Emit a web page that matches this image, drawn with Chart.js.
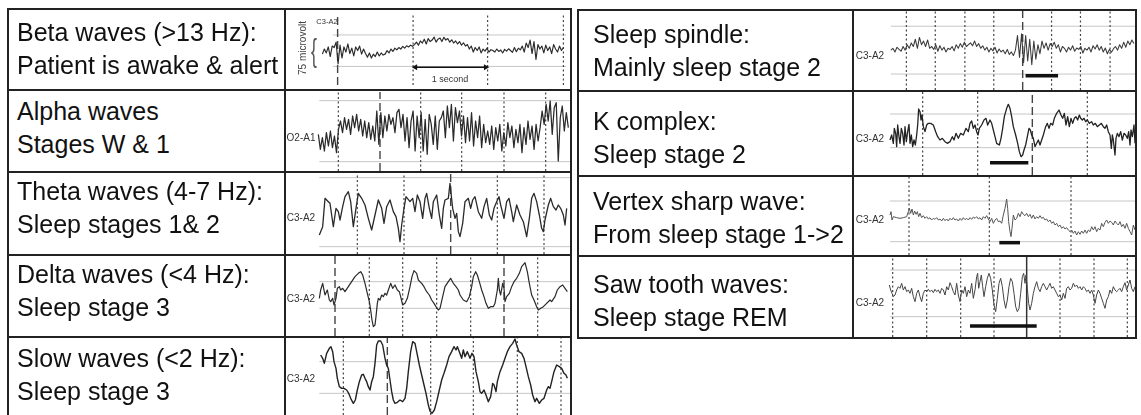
<!DOCTYPE html>
<html>
<head>
<meta charset="utf-8">
<script src="https://cdn.jsdelivr.net/npm/chart.js@4.4.1/dist/chart.umd.min.js"></script>
<style>
  html, body { margin: 0; padding: 0; background: #fff; }
  #page { position: relative; width: 1141px; height: 415px; overflow: hidden; font-family: "Liberation Sans", Arial, sans-serif; }
  .rule { position: absolute; background: #222; }
  .txt { position: absolute; font-size: 25px; line-height: 33px; color: #111; white-space: nowrap; }
  .lbl { position: absolute; font-size: 10px; color: #333; white-space: nowrap; transform: translate(-50%, -50%); }
  canvas { position: absolute; }
</style>
</head>
<body>
<div id="page"></div>
<script>
// ---- text of the two tables ----
const leftTitles = ['Beta waves (>13 Hz):', 'Alpha waves', 'Theta waves (4-7 Hz):', 'Delta waves (<4 Hz):', 'Slow waves (<2 Hz):']
const leftNotes = ['Patient is awake & alert', 'Stages W & 1', 'Sleep stages 1& 2', 'Sleep stage 3', 'Sleep stage 3']
const rightTitles = ['Sleep spindle:', 'K complex:', 'Vertex sharp wave:', 'Saw tooth waves:']
const rightNotes = ['Mainly sleep stage 2', 'Sleep stage 2', 'From sleep stage 1->2', 'Sleep stage REM']
const channels = ['C3-A2', 'O2-A1', 'C3-A2', 'C3-A2', 'C3-A2', 'C3-A2', 'C3-A2', 'C3-A2', 'C3-A2']

// ---- traces: amplitude (reference lines mark the 75 microvolt span) ----
// evenly sampled sweeps
const betaAmp = [-12, 5, -8, 12, -20, 15, 10, 28, -45, 18, -25, 12, -5, 22, -10, 8, -18, 12, 0, 15, -12, 5,
  -10, -22, -8, -25, -12, -20, -5, -18, -8, -15,
  -12, 0, -8, 5, -3, 8, 2, 10, 5, 14, 8, 16, 12, 18, 14,
  20, 28, 18, 32, 25, 38, 22, 40, 30, 35, 45, 28, 38, 42, 30, 44, 35, 40, 28, 36, 25, 32, 22, 30, 18, 26, 15,
  20, 5, 15, -5, 10, 0, 12, -8, 5, -2, 8, -5, 3,
  0, -5, 5, -3, 2, -8, 4, -2, 6, 0, -6, 10, -4, 8, 2, 15, -5, 25, 10, 35, -10, 30, -30, 20, 5, 15, -8, 18, 0, 12, -10, 20, 5, -5, 15, 0, 10]

const alphaAmp = [-10, -55, -20, -60, -5, -45, 0, -50, -15, -65, 5,
  30, -5, 40, 5, 35, -10, 45, 10, 50, 0, 35, -15, 30, -20, 25, -25, 15, -30,
  60, -40, 55, -20, 45, 0, 50, 20, 40, -5, 55, 65, 10, 50, -30, 40, -50, 30, 60, -60, 45, -20,
  55, -60, 35, -70, 50, 20, -40, 45, -55, 30,
  40, 60, -20, 75, 10, 80, -30, 70, 25, 60, -15, 45, -35,
  40, -30, 55, -45, 30, -20, 45, -50, 20, -35,
  0, -40, 15, -55, 10, -30, 20, -60, -5, -45, 25, -20, 15, -50, 5, -35, 20, -65, 10, -40, 30, -25, 15, -55, 20, -30, 10,
  60, 20, 80, 30, 90, -10, 70, 85, -90, 40, 75, 0, 55, 10]

const spindleAmp = [0, 5, -5, 8, 2, -3, 10, 0, 15, 5,
  20, 10, 30, 5, 35, 15, 25, 10, 28, 5,
  10, 2, 15, -3, 12, 0, 8, -5, 5, 2, 10, -2, 15, 5, 18, 8, 22, 10, 15,
  20, 12, 25, 10, 18, 5, 12, 0, 8, -5, 5, -2, 8, -8, 3, -5, 0, -10, 2, -12, -5, -15, 0,
  40, -20, 45, -35, 40, -30, 30, -40, 25, -25, 15, -10,
  25, 5, 20, 0, 18, 10, 22, 5, 15, -5, 10,
  5, -5, 8, 0, 12, -3, 6, 2, 10, -8, 5, 0, 8, -5, 12, 3, 15, 0, 10, -5, 6, -10, 2, -6, 4,
  10, 0, 15, 5, 22, 8, 25, 15, 28, 18]

// unevenly read sweeps: position along the sweep + amplitude
const thetaX = [118, 128, 135, 145, 150, 155, 160, 168, 175, 180, 188, 195, 205, 212, 220, 228, 235, 245, 255, 265, 275, 285, 295, 305, 312, 320, 330, 340, 348, 355, 360, 365, 372, 378, 390, 398, 405, 412, 420, 428, 435, 440, 448, 455, 460, 470, 478, 485, 490, 495, 505, 510, 518, 525, 530, 535, 540, 548, 555, 565, 572, 578, 585, 595, 605, 612, 620, 628, 635, 642, 650, 657, 662, 672, 680, 687, 695, 700, 710, 720, 730, 740, 748, 755, 762, 770, 778, 785, 790, 795, 805, 812, 820, 828, 835, 842, 850, 855, 860]
const thetaAmp = [-69, -44, 41, 31, 26, -9, -44, 11, 1, -24, 16, 46, 61, 31, -44, 11, 56, 41, 21, -19, -54, -9, 36, 11, -34, 16, 36, 1, -14, -49, -89, -39, 11, 46, 31, 41, 1, 51, 31, -19, 41, 56, 11, -19, 31, 51, -9, -49, 11, 36, 41, 86, 11, -19, -4, -59, -74, -34, 31, 41, 11, 36, 46, 1, -19, 16, 41, -9, -24, 11, 31, 46, 21, -19, 31, 41, 1, -29, 21, -9, -29, -74, -19, 41, 56, 31, -9, -49, -59, -24, 21, 41, 16, 6, 21, 11, -9, -39, 11]

const deltaX = [118, 122, 128, 135, 142, 148, 152, 158, 162, 168, 172, 178, 182, 188, 195, 205, 215, 225, 235, 242, 248, 255, 262, 268, 272, 276, 280, 285, 288, 292, 295, 300, 305, 310, 315, 320, 325, 332, 338, 345, 352, 358, 362, 368, 375, 382, 390, 396, 402, 410, 415, 425, 432, 440, 448, 455, 462, 468, 475, 480, 488, 495, 505, 512, 520, 528, 535, 540, 550, 560, 568, 575, 580, 587, 592, 598, 605, 612, 618, 625, 632, 640, 645, 652, 655, 658, 662, 668, 672, 675, 680, 688, 695, 702, 710, 718, 725, 735, 742, 748, 755, 762, 770, 775, 782, 790, 800, 810, 815, 825, 832, 840, 848, 855, 862]
const deltaAmp = [-10, 15, 35, 0, 15, -15, -20, -10, -30, -10, 20, 25, 15, 20, 10, 25, 40, 55, 65, 70, 60, 35, 5, -20, -45, -75, -95, -90, -65, -25, -10, -15, 0, -5, 5, 0, 15, 35, 20, 30, 15, 10, -5, -30, -25, -10, 25, 55, 73, 65, 45, 35, 25, 10, 0, -15, -25, -35, -45, -40, -5, 25, 40, 50, 35, 25, 15, 0, -15, -20, -5, 25, 55, 70, 60, 40, 15, -5, -25, -40, -35, -35, -25, 15, 50, 15, 0, 35, 20, -20, -5, 5, 25, 40, 50, 65, 85, 97, 70, 35, 0, -15, -35, -45, -40, -35, -25, -15, -20, -5, 15, 25, 30, 20, 10]

const slowX = [122, 128, 133, 140, 148, 153, 158, 162, 168, 172, 178, 185, 192, 200, 206, 212, 220, 226, 232, 238, 245, 250, 255, 260, 265, 270, 275, 280, 285, 290, 295, 302, 308, 315, 320, 325, 330, 335, 340, 345, 352, 360, 368, 375, 380, 385, 392, 398, 405, 410, 418, 425, 432, 438, 445, 450, 456, 463, 470, 478, 485, 492, 500, 507, 515, 522, 528, 532, 538, 545, 550, 555, 562, 570, 576, 582, 588, 595, 600, 605, 612, 618, 625, 632, 638, 642, 648, 652, 660, 668, 675, 682, 690, 698, 705, 710, 717, 725, 732, 738, 745, 752, 758, 765, 770, 778, 785, 792, 800, 805, 810, 815, 822, 830, 838, 845, 852, 858, 862]
const slowAmp = [68, 58, 43, 73, 88, 93, 78, 48, 28, -2, -27, -32, -32, -37, -47, -62, -77, -67, -37, -12, 8, 10, -2, -12, -27, -37, -12, 3, 43, 98, 110, 110, 98, 58, 38, 28, -7, -42, -67, -77, -74, -67, -72, -62, -32, 18, 78, 108, 103, 78, 38, 8, -22, -47, -82, -100, -107, -97, -72, -37, -7, 13, 38, 63, 78, 93, 83, 93, 78, 58, 83, 63, 78, 58, 73, 63, 18, -12, -42, -47, -37, -52, -72, -57, -17, -22, -42, -12, 18, 38, 58, 78, 93, 103, 116, 98, 78, 73, 58, 33, 3, -22, -52, -72, -62, -77, -67, -62, -37, -27, -32, -12, 18, 38, 33, 28, 13, 8, -2]

const kX = [150, 155, 160, 163, 167, 170, 173, 177, 180, 184, 188, 192, 195, 199, 203, 207, 210, 214, 218, 222, 226, 230, 233, 236, 240, 243, 246, 250, 255, 260, 265, 272, 280, 287, 293, 300, 307, 315, 322, 330, 337, 342, 348, 355, 362, 370, 378, 385, 390, 395, 400, 405, 410, 414, 418, 425, 432, 438, 443, 450, 455, 460, 465, 470, 478, 483, 488, 493, 500, 505, 510, 515, 520, 527, 533, 538, 543, 548, 552, 557, 562, 567, 571, 575, 580, 585, 590, 595, 600, 605, 610, 617, 622, 627, 632, 638, 643, 650, 657, 663, 668, 673, 678, 683, 688, 693, 698, 703, 708, 713, 718, 722, 727, 732, 737, 742, 748, 755, 760, 766, 772, 778, 784, 790, 795, 800, 805, 810, 814, 817, 820, 825, 828, 832, 837, 842, 847, 852, 857, 862, 866, 870, 873, 877, 882, 885]
const kAmp = [-28, -13, -38, 7, -8, -48, 17, -18, -38, 7, -8, -43, 12, -33, -3, 19, -38, -13, -48, -28, -43, -13, 17, 65, 57, 32, 47, 12, -3, 17, 22, 22, 17, -3, -18, -28, -23, -33, -38, -33, -18, -28, -8, -23, -8, -13, 7, -3, 22, 29, 7, 17, -3, -13, 7, 17, 32, 37, 17, 32, 22, 2, -18, -38, -43, -23, 7, 42, 67, 79, 67, 42, 12, -13, -38, -63, -78, -73, -58, -43, -18, 7, 2, -13, -23, -48, -38, -28, -43, -28, -13, 12, 22, 7, 22, 17, 37, 52, 62, 47, 37, 52, 17, 42, 12, 37, 22, 37, 42, 32, 47, 37, 32, 37, 27, 32, 22, 27, 17, 22, 12, 17, 22, 12, 7, 17, -3, -13, -53, -13, -28, -73, -23, -8, -18, -3, -28, -8, -13, -23, -3, -43, 2, -18, 17, -38]

const vertexX = [150, 153, 156, 160, 170, 180, 190, 200, 205, 208, 212, 216, 220, 224, 228, 232, 236, 240, 245, 250, 255, 260, 265, 270, 275, 280, 285, 290, 295, 300, 305, 310, 315, 320, 325, 330, 335, 340, 345, 350, 355, 360, 365, 370, 375, 380, 385, 390, 395, 400, 405, 410, 415, 420, 425, 430, 435, 440, 445, 450, 455, 460, 465, 470, 475, 480, 485, 490, 495, 500, 503, 506, 510, 513, 516, 520, 525, 530, 535, 540, 545, 550, 555, 560, 565, 570, 575, 580, 585, 590, 595, 600, 605, 610, 615, 620, 625, 630, 635, 640, 645, 650, 655, 660, 665, 670, 675, 680, 685, 690, 695, 700, 705, 710, 715, 720, 725, 730, 735, 740, 745, 750, 755, 760, 765, 770, 775, 780, 785, 790, 795, 800, 805, 810, 815, 820, 825, 830, 835, 840, 845, 850, 855, 860, 865, 870, 875, 880, 885]
const vertexAmp = [19, 29, 4, 14, 11, 9, 11, 14, 29, 39, 24, 37, 19, 31, 21, 29, 14, 24, 11, 17, 9, 14, 7, 11, 4, 9, 6, 11, 4, 7, 1, 9, 2, 7, 1, 9, 4, 11, 4, 7, 1, 9, 3, 11, 5, 9, 4, 11, 6, 13, 9, 14, 7, 11, 4, 14, 9, 17, 7, -1, 9, -6, 4, 9, -1, 1, -6, 19, 39, 67, 39, -1, -31, -46, -21, 19, 4, 9, 24, 14, 29, 21, 17, 24, 14, 21, 9, 19, 7, 14, 9, 17, 9, 12, 4, 7, -1, 4, -6, -1, -11, -6, -16, -11, -21, -16, -23, -19, -26, -31, -26, -36, -29, -41, -31, -39, -29, -36, -26, -36, -26, -31, -16, -26, -16, -31, -21, -26, -6, -16, -3, 4, -6, 1, -3, -11, 1, -6, -11, -1, -16, -9, -21, -6, -21, -31, -41, -11, -26]

const sawX = [148, 152, 156, 160, 165, 170, 175, 180, 185, 190, 195, 200, 205, 210, 215, 220, 225, 230, 235, 240, 245, 250, 255, 260, 265, 270, 275, 280, 285, 290, 295, 300, 305, 310, 315, 320, 325, 330, 335, 340, 345, 350, 355, 360, 365, 370, 375, 380, 385, 390, 395, 400, 405, 410, 413, 416, 420, 424, 428, 432, 437, 442, 447, 452, 457, 462, 467, 472, 477, 482, 487, 492, 497, 502, 507, 512, 517, 522, 527, 532, 537, 542, 547, 551, 555, 558, 562, 566, 570, 575, 580, 585, 590, 595, 600, 605, 610, 615, 620, 625, 630, 635, 640, 645, 650, 655, 660, 665, 670, 675, 680, 685, 690, 695, 700, 705, 710, 715, 720, 725, 730, 735, 740, 745, 750, 755, 760, 765, 770, 775, 780, 785, 790, 795, 800, 805, 810, 815, 820, 825, 830, 835, 840, 845, 850, 855, 860, 865, 870, 875, 880, 885]
const sawAmp = [25, 10, 0, -10, -5, 10, 20, 15, 30, 10, 20, 5, 10, 0, 15, -10, -25, 0, 10, -10, -25, 0, 10, 5, 12, 5, 10, 2, 12, 5, 10, 0, 15, 10, -5, 20, 10, 32, 20, 5, -5, 30, -5, -25, 10, 0, 20, -10, 10, 0, 30, -15, 10, 50, 60, 15, 35, 55, 20, -10, 20, 45, 60, 45, 10, -35, -55, -15, 30, 45, 20, -20, -45, -20, 20, 45, 35, 0, -40, -55, -45, 0, 50, 60, 30, 55, 15, -30, -50, -30, 0, 20, 35, 15, 5, 20, 30, 20, 10, 20, 30, 15, 20, 10, 0, -10, -5, -20, 0, -15, 15, 20, 10, 15, 30, 20, 25, 15, 20, 10, 20, 15, 5, 10, 0, 10, -5, -30, -5, 10, 0, -15, -30, -45, -20, -10, 10, 0, 20, 10, 5, 10, 15, 5, 20, 32, 10, 25, 40, 15, 5, 20]

// highlighted event bars and the one second arrow (sweep position start/end, level)
const spindleBar = [1248, 1338, -71]
const kBar = [450, 565, -96]
const vertexBar = [478, 540, -64]
const sawBar = [390, 590, -98]
const secondArrow = [405, 622, -56]

// ---- layout of the cells ----
const page = document.getElementById('page')

function rule(x, y, w, h) {
  const d = document.createElement('div')
  d.className = 'rule'
  Object.assign(d.style, { left: x + 'px', top: y + 'px', width: w + 'px', height: h + 'px' })
  page.appendChild(d)
}

function label(text, x, y, css) {
  const d = document.createElement('div')
  d.className = 'lbl'
  d.textContent = text
  d.style.left = x + 'px'
  d.style.top = y + 'px'
  if (css) d.style.cssText += css
  page.appendChild(d)
}

function textCell(x, top, title, note) {
  const d = document.createElement('div')
  d.className = 'txt'
  d.style.left = x + 'px'
  d.style.top = top + 'px'
  d.textContent = title
  d.appendChild(document.createElement('br'))
  d.appendChild(document.createTextNode(note))
  page.appendChild(d)
}

const waveCells = [
  { box: [286, 10, 284, 79], x: [18, 870], y: [-115, 122], refs: [52, -53], refFrom: 150,
    amp: betaAmp, sweep: [118, 862], dotted: [398, 628, 862], dashed: [165], solid: [],
    color: '#2a2a2a', width: 1.15, arrow: secondArrow },
  { box: [286, 92, 284, 79], x: [18, 870], y: [-120, 117], refs: [91, -92], refFrom: 118,
    amp: alphaAmp, sweep: [115, 865], dotted: [175, 422, 545, 672, 797], dashed: [300], solid: [],
    color: '#2a2a2a', width: 1.25 },
  { box: [286, 173, 284, 81], x: [18, 870], y: [-126, 117], refs: [103, -104], refFrom: 118,
    xs: thetaX, amp: thetaAmp, dotted: [232, 372, 652, 792], dashed: [512], solid: [],
    color: '#2a2a2a', width: 1.3 },
  { box: [286, 256, 284, 80], x: [18, 870], y: [-123, 117], refs: [40, -40], refFrom: 118,
    xs: deltaX, amp: deltaAmp, dotted: [268, 368, 470, 572, 773], dashed: [165, 672], solid: [],
    color: '#2a2a2a', width: 1.2 },
  { box: [286, 338, 284, 77], x: [18, 870], y: [-112, 119], refs: [48, -47], refFrom: 118,
    xs: slowX, amp: slowAmp, dotted: [190, 452, 580, 712, 843], dashed: [322], solid: [],
    color: '#222', width: 1.4 },
  { box: [854, 11, 281, 79], x: [773, 1551], y: [-110, 108], refs: [66, -66], refFrom: 875,
    amp: spindleAmp, sweep: [875, 1548], dotted: [918, 998, 1080, 1160, 1320, 1400, 1482], dashed: [1240], solid: [],
    color: '#3a3a3a', width: 1.05, bar: spindleBar },
  { box: [854, 92, 281, 83], x: [42, 885], y: [-133, 116], refs: [50, -51], refFrom: 150,
    xs: kX, amp: kAmp, dotted: [248, 413, 742], dashed: [577], solid: [],
    color: '#222', width: 1.3, bar: kBar },
  { box: [854, 177, 281, 78], x: [42, 885], y: [-101, 133], refs: [61, -61], refFrom: 150,
    xs: vertexX, amp: vertexAmp, dotted: [207, 448, 693], dashed: [], solid: [],
    color: '#555', width: 1, bar: vertexBar },
  { box: [854, 257, 281, 80], x: [42, 885], y: [-131, 109], refs: [70, -70], refFrom: 150,
    xs: sawX, amp: sawAmp, dotted: [158, 260, 362, 462, 660, 762, 862], dashed: [], solid: [560],
    color: '#444', width: 1, bar: sawBar }
]

function segment(x0, y0, x1, y1, style) {
  return { data: [{ x: x0, y: y0 }, { x: x1, y: y1 }], pointRadius: 0, ...style }
}

function drawWave(cell) {
  const [left, top, w, h] = cell.box
  const canvas = document.createElement('canvas')
  canvas.width = w
  canvas.height = h
  canvas.style.left = left + 'px'
  canvas.style.top = top + 'px'
  page.appendChild(canvas)

  const [xMin, xMax] = cell.x
  const [yMin, yMax] = cell.y
  const n = cell.amp.length
  const points = cell.amp.map((v, i) => ({
    x: cell.xs ? cell.xs[i] : cell.sweep[0] + i * (cell.sweep[1] - cell.sweep[0]) / (n - 1),
    y: v
  }))

  const datasets = [{ data: points, borderColor: cell.color, borderWidth: cell.width, pointRadius: 0, borderJoinStyle: 'round' }]
  if (cell.bar) {
    datasets.push(segment(cell.bar[0], cell.bar[2], cell.bar[1], cell.bar[2], { borderColor: '#111', borderWidth: 3.5 }))
  }
  if (cell.arrow) {
    const [a0, a1, ay] = cell.arrow
    datasets.push({
      data: [{ x: a0, y: ay }, { x: a1, y: ay }],
      borderColor: '#111', borderWidth: 1.5,
      pointStyle: 'triangle', pointRadius: 3.5, pointRotation: [-90, 90],
      pointBackgroundColor: '#111', pointBorderColor: '#111', pointBorderWidth: 0
    })
  }
  cell.solid.forEach(m => datasets.push(segment(m, yMin, m, yMax, { borderColor: '#333', borderWidth: 1.5 })))
  cell.dashed.forEach(m => datasets.push(segment(m, yMin, m, yMax, { borderColor: '#444', borderWidth: 1.4, borderDash: [8, 4] })))
  cell.dotted.forEach(m => datasets.push(segment(m, yMin, m, yMax, { borderColor: '#444', borderWidth: 1.2, borderDash: [2, 2.5] })))
  cell.refs.forEach(r => datasets.push(segment(cell.refFrom, r, xMax, r, { borderColor: '#c6c6c6', borderWidth: 1 })))

  new Chart(canvas, {
    type: 'line',
    data: { datasets },
    options: {
      responsive: false,
      animation: false,
      events: [],
      layout: { padding: 0 },
      elements: { line: { tension: 0 } },
      plugins: { legend: { display: false }, tooltip: { enabled: false } },
      scales: {
        x: { type: 'linear', display: false, min: xMin, max: xMax },
        y: { display: false, min: yMin, max: yMax }
      }
    }
  })
}

waveCells.forEach(drawWave)

// channel names and annotations
label(channels[0], 327, 21, 'font-size:7.5px;')
label('75 microvolt', 301.5, 47.5, 'transform:translate(-50%,-50%) rotate(-90deg);font-size:10px;color:#444;')
label('{', 313.5, 50, 'font-size:32px;font-weight:300;color:#555;transform:translate(-50%,-50%) scaleX(0.55);')
label('1 second', 450, 79, 'font-size:9px;')
label(channels[1], 301, 137)
label(channels[2], 301, 217)
label(channels[3], 301, 298)
label(channels[4], 301, 378)
label(channels[5], 870, 55)
label(channels[6], 870, 138)
label(channels[7], 870, 219)
label(channels[8], 870, 302)

// table rules: left table
rule(7, 8, 565, 2)
;[89, 171, 254, 336].forEach(y => rule(7, y, 565, 2))
rule(7, 8, 2, 420)
rule(284, 8, 2, 420)
rule(570, 8, 2, 420)
// right table
rule(577, 9, 560, 2)
;[90, 175, 255, 337].forEach(y => rule(577, y, 560, 2))
rule(577, 9, 2, 330)
rule(852, 9, 2, 330)
rule(1135, 9, 2, 330)

// text cells
const leftTops = [16, 95, 175, 258, 342]
const rightTops = [18, 105, 185, 268]
leftTitles.forEach((t, i) => textCell(17, leftTops[i], t, leftNotes[i]))
rightTitles.forEach((t, i) => textCell(593, rightTops[i], t, rightNotes[i]))
</script>
</body>
</html>
